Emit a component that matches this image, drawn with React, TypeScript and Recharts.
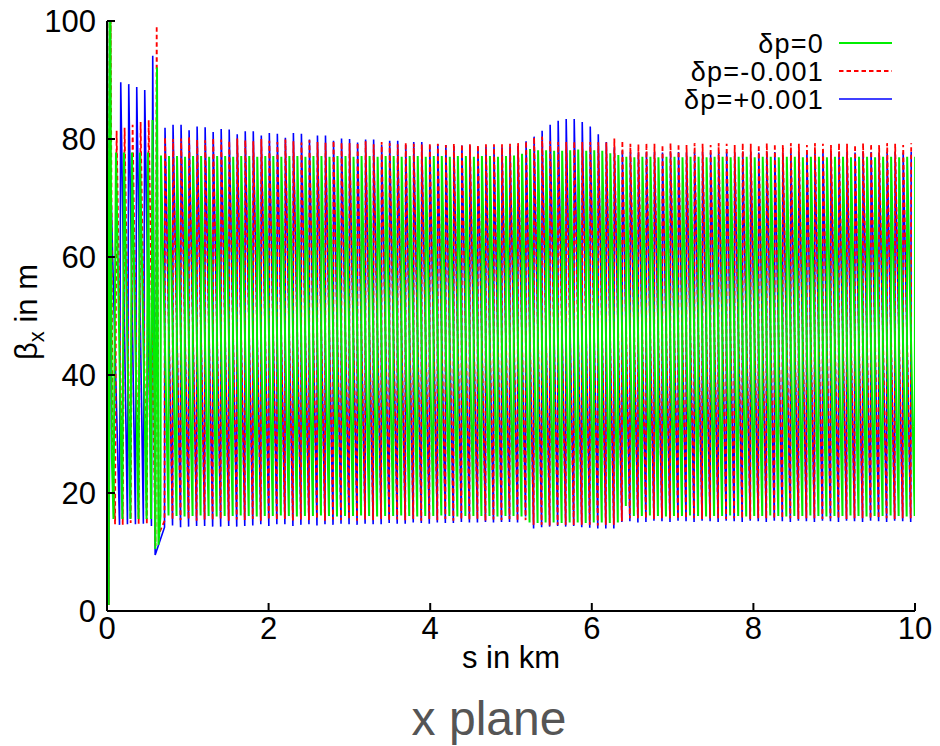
import { LineChart, Line, XAxis, YAxis } from 'recharts'

// axis ticks
const xTicks = [0, 2, 4, 6, 8, 10]
const yTicks = [0, 20, 40, 60, 80, 100]

// regular FODO cells: first green peak (km), cell length (km), offset of the δp≠0 peaks
const cellStart = 0.668
const cellLength = 0.0993
const offPeak = 0.05

// injection / matching part, [s in km, beta in m]
const greenHead = [
  [0, 130], [0.02, 1], [0.04, 110], [0.06, 26], [0.08, 15.6], [0.111, 77.7],
  [0.19, 15.6], [0.21, 77.7], [0.29, 15.6], [0.309, 77.7], [0.39, 15.6], [0.408, 77.7],
  [0.49, 15.6], [0.507, 77.7], [0.545, 15.6], [0.563, 83.2], [0.598, 10.5], [0.619, 92.1],
  [0.637, 11.2],
]
const redHead = [
  [0, 125], [0.02, 1], [0.045, 100], [0.07, 26], [0.1, 14.7], [0.119, 81.4],
  [0.195, 14.6], [0.218, 81.9], [0.293, 14.9], [0.317, 82.4], [0.392, 14.8], [0.416, 82.9],
  [0.493, 14.7], [0.516, 83.2], [0.6, 11.0], [0.615, 99.2], [0.64, 13.0],
]
const blueHead = [
  [0, 125], [0.02, 1], [0.05, 70.8], [0.155, 14.6], [0.17, 89.6], [0.253, 14.7],
  [0.269, 89.3], [0.352, 14.7], [0.368, 88.8], [0.45, 14.8], [0.467, 88.3], [0.55, 14.4],
  [0.566, 94.1], [0.596, 9.5],
]

// δp=0 : cell maxima / minima
const greenMax = [
  77.2, 77.1, 77.1, 77.0, 77.1, 77.1, 77.0, 77.1, 77.1, 77.0,
  77.1, 77.1, 77.0, 77.1, 77.1, 77.0, 77.1, 77.1, 77.0, 77.1,
  77.1, 77.0, 77.1, 77.1, 77.0, 77.1, 77.1, 77.0, 77.1, 77.1,
  77.0, 77.1, 77.1, 77.0, 77.1, 77.1, 77.0, 77.1, 77.1, 77.0,
  77.1, 77.1, 77.0, 77.1, 77.2, 77.5, 78.3, 78.1, 78.1, 78.0,
  78.0, 78.1, 78.2, 78.0, 78.1, 78.0, 77.6, 77.3, 77.0, 76.9,
  77.0, 77.0, 76.9, 77.0, 77.0, 76.9, 77.0, 77.0, 76.9, 77.0,
  77.0, 76.9, 77.0, 77.0, 76.9, 77.0, 77.0, 76.9, 77.0, 77.0,
  76.9, 77.0, 77.0, 76.9, 77.0, 77.0, 76.9, 77.0, 77.0, 76.9,
  77.0, 77.0, 76.9, 77.0, 77.0,
]
const greenMin = [
  16.1, 16.2, 16.1, 16.0, 16.1, 16.2, 16.1, 16.0, 16.1, 16.1,
  16.2, 16.1, 16.0, 16.1, 16.1, 16.2, 16.1, 16.0, 16.1, 16.1,
  16.2, 16.1, 16.0, 16.1, 16.1, 16.2, 16.1, 16.0, 16.1, 16.1,
  16.2, 16.1, 16.0, 16.1, 16.1, 16.2, 16.1, 16.0, 16.1, 16.1,
  16.1, 16.1, 16.0, 16.1, 16.1, 16.0, 15.0, 14.9, 15.0, 15.0,
  14.9, 15.0, 15.0, 14.9, 15.0, 15.0, 14.9, 15.0, 17.8, 16.1,
  16.1, 16.2, 16.1, 16.0, 16.1, 16.1, 16.2, 16.1, 16.0, 16.1,
  16.1, 16.2, 16.1, 16.0, 16.1, 16.1, 16.2, 16.1, 16.0, 16.1,
  16.1, 16.2, 16.1, 16.0, 16.1, 16.1, 16.2, 16.1, 16.0, 16.1,
  16.1, 16.2, 16.1, 16.0, 16.1,
]

// δp=-0.001
const redMax = [
  80.3, 80.0, 80.1, 80.4, 79.9, 79.8, 80.2, 79.9, 79.7, 80.1,
  79.8, 79.6, 80.0, 79.7, 79.5, 79.9, 79.6, 79.4, 79.8, 79.5,
  79.4, 79.7, 79.4, 79.3, 79.4, 79.6, 79.1, 79.5, 79.3, 79.1,
  79.4, 79.2, 79.1, 79.3, 79.2, 79.0, 79.2, 79.1, 79.1, 79.0,
  79.1, 79.1, 79.1, 79.2, 79.3, 79.6, 80.3, 80.4, 79.6, 79.5,
  79.5, 79.6, 79.5, 79.5, 79.5, 79.4, 80.1, 79.7, 79.2, 79.1,
  79.3, 79.2, 79.0, 79.3, 79.2, 79.0, 79.3, 79.2, 79.0, 79.3,
  79.2, 79.0, 79.3, 79.2, 79.0, 79.3, 79.2, 79.0, 79.3, 79.2,
  79.0, 79.3, 79.2, 79.0, 79.3, 79.2, 79.0, 79.3, 79.2, 79.0,
  79.3, 79.2, 79.0, 79.3,
]
const redMin = [
  15.3, 15.5, 15.4, 15.6, 15.3, 15.5, 15.4, 15.6, 15.3, 15.5,
  15.4, 15.6, 15.3, 15.5, 15.4, 15.6, 15.3, 15.5, 15.4, 15.6,
  15.3, 15.5, 15.4, 15.6, 15.3, 15.5, 15.4, 15.6, 15.3, 15.5,
  15.4, 15.6, 15.3, 15.5, 15.4, 15.6, 15.3, 15.5, 15.4, 15.6,
  15.3, 15.5, 15.4, 15.6, 15.3, 15.4, 14.6, 14.6, 14.5, 14.6,
  14.6, 14.5, 14.6, 14.6, 14.5, 14.6, 14.6, 15.2, 15.7, 15.7,
  15.7, 15.6, 15.7, 15.7, 15.6, 15.7, 15.7, 15.6, 15.7, 15.7,
  15.6, 15.7, 15.7, 15.6, 15.7, 15.7, 15.6, 15.7, 15.7, 15.6,
  15.7, 15.7, 15.6, 15.7, 15.7, 15.6, 15.7, 15.7, 15.6, 15.7,
  15.7, 15.6, 15.7, 15.7,
]

// δp=+0.001
const blueMax = [
  81.9, 82.4, 82.4, 81.5, 82.1, 82.0, 81.2, 81.7, 81.6, 80.8,
  81.3, 81.3, 80.6, 81.0, 80.9, 80.2, 81.0, 80.9, 79.9, 80.6,
  80.6, 79.7, 80.1, 80.0, 79.4, 79.9, 79.9, 79.0, 79.7, 79.7,
  79.0, 79.5, 79.5, 78.9, 79.1, 79.0, 78.8, 78.9, 78.9, 78.6,
  78.7, 78.7, 78.6, 78.7, 78.8, 79.6, 80.4, 81.4, 82.4, 83.1,
  83.4, 83.4, 82.9, 82.1, 80.8, 79.5, 78.6, 78.0, 77.8, 77.7,
  77.8, 77.8, 77.7, 77.8, 77.8, 77.7, 77.8, 77.8, 77.7, 77.8,
  77.8, 77.7, 77.8, 77.8, 77.7, 77.8, 77.8, 77.7, 77.8, 77.8,
  77.7, 77.8, 77.8, 77.7, 77.8, 77.8, 77.7, 77.8, 77.8, 77.7,
  77.8, 77.8, 77.7, 77.8,
]
const blueMin = [
  14.2, 14.5, 14.2, 14.3, 14.4, 14.4, 14.3, 14.3, 14.4, 14.3,
  14.4, 14.5, 14.7, 14.4, 14.7, 14.7, 14.4, 14.6, 14.7, 14.5,
  14.7, 14.6, 14.8, 14.7, 14.6, 14.8, 14.7, 14.7, 14.9, 14.8,
  14.8, 15.0, 14.9, 14.8, 15.0, 14.9, 14.9, 15.1, 15.0, 15.0,
  15.1, 15.0, 15.1, 15.1, 15.0, 16.0, 14.0, 14.2, 14.3, 14.4,
  14.3, 14.4, 14.2, 14.1, 14.0, 14.0, 14.0, 15.1, 15.2, 15.0,
  15.1, 15.3, 15.2, 15.1, 15.3, 15.2, 15.1, 15.3, 15.2, 15.1,
  15.3, 15.2, 15.1, 15.3, 15.2, 15.1, 15.3, 15.2, 15.1, 15.3,
  15.2, 15.1, 15.3, 15.2, 15.1, 15.3, 15.2, 15.1, 15.3, 15.2,
  15.1, 15.3, 15.2, 15.1,
]

// each cell: fast rise just before the peak, slow fall to the next cell
function build(head: number[][], maxs: number[], mins: number[], start: number) {
  const pts = head.map(([s, b]) => ({ s, b }))
  maxs.forEach((m, k) => {
    const p = start + k * cellLength
    pts.push({ s: p - 0.006, b: mins[k] })
    pts.push({ s: p, b: m })
  })
  return pts
}

const green = build(greenHead, greenMax, greenMin, cellStart)
const red = build(redHead, redMax, redMin, cellStart + offPeak)
const blue = build(blueHead, blueMax, blueMin, cellStart + offPeak)

const font = '"Liberation Sans", Arial, Helvetica, sans-serif'
const tickStyle = { fill: '#000', fontSize: 31 }

export default function App() {
  return (
    <div style={{ position: 'absolute', left: 0, top: 0, width: 940, height: 746, background: '#fff', fontFamily: font }}>
      <LineChart width={940} height={746} margin={{ top: 21, right: 25, bottom: 75, left: 27 }}>
        <XAxis
          xAxisId="b"
          type="number"
          dataKey="s"
          domain={[0, 10]}
          ticks={xTicks}
          allowDataOverflow
          height={60}
          stroke="#000"
          strokeWidth={2}
          tickSize={-8}
          tickMargin={14}
          tick={tickStyle}
        />
        <XAxis
          xAxisId="t"
          orientation="top"
          type="number"
          dataKey="s"
          domain={[0, 10]}
          ticks={xTicks}
          height={0}
          stroke="#000"
          strokeWidth={2}
          tickSize={-8}
          tick={false}
        />
        <YAxis
          yAxisId="l"
          type="number"
          domain={[0, 100]}
          ticks={yTicks}
          allowDataOverflow
          width={80}
          stroke="#000"
          strokeWidth={2}
          tickSize={-8}
          tickMargin={19}
          tick={tickStyle}
        />
        <YAxis
          yAxisId="r"
          orientation="right"
          type="number"
          domain={[0, 100]}
          ticks={yTicks}
          width={0}
          stroke="#000"
          strokeWidth={2}
          tickSize={-8}
          tick={false}
        />
        <Line
          xAxisId="b"
          yAxisId="l"
          data={blue}
          dataKey="b"
          type="linear"
          stroke="#0000ff"
          strokeWidth={1.6}
          dot={false}
          isAnimationActive={false}
        />
        <Line
          xAxisId="b"
          yAxisId="l"
          data={red}
          dataKey="b"
          type="linear"
          stroke="#ff0000"
          strokeWidth={1.8}
          strokeDasharray="4.5 3"
          dot={false}
          isAnimationActive={false}
        />
        <Line
          xAxisId="b"
          yAxisId="l"
          data={green}
          dataKey="b"
          type="linear"
          stroke="#00ee00"
          strokeWidth={2}
          dot={false}
          isAnimationActive={false}
        />
      </LineChart>

      <svg width={940} height={746} style={{ position: 'absolute', left: 0, top: 0, pointerEvents: 'none' }}>
        <g fontSize={27} fill="#000" textAnchor="end" letterSpacing={1.2}>
          <text x={824} y={53}>δp=0</text>
          <text x={824} y={81}>δp=-0.001</text>
          <text x={824} y={109}>δp=+0.001</text>
        </g>
        <line x1={839} x2={892} y1={43} y2={43} stroke="#00ee00" strokeWidth={2} />
        <line x1={839} x2={892} y1={71} y2={71} stroke="#ff0000" strokeWidth={1.8} strokeDasharray="4.5 3" />
        <line x1={839} x2={892} y1={99} y2={99} stroke="#0000ff" strokeWidth={1.6} />

        <text x={511} y={668} fontSize={31} textAnchor="middle" fill="#000">s in km</text>
        <text transform="translate(37,312) rotate(-90)" fontSize={31} textAnchor="middle" fill="#000">
          β<tspan dy={7} fontSize={22}>x</tspan><tspan dy={-7}> in m</tspan>
        </text>

        <text x={489} y={735} fontSize={48} textAnchor="middle" fill="#555">x plane</text>
      </svg>
    </div>
  )
}
